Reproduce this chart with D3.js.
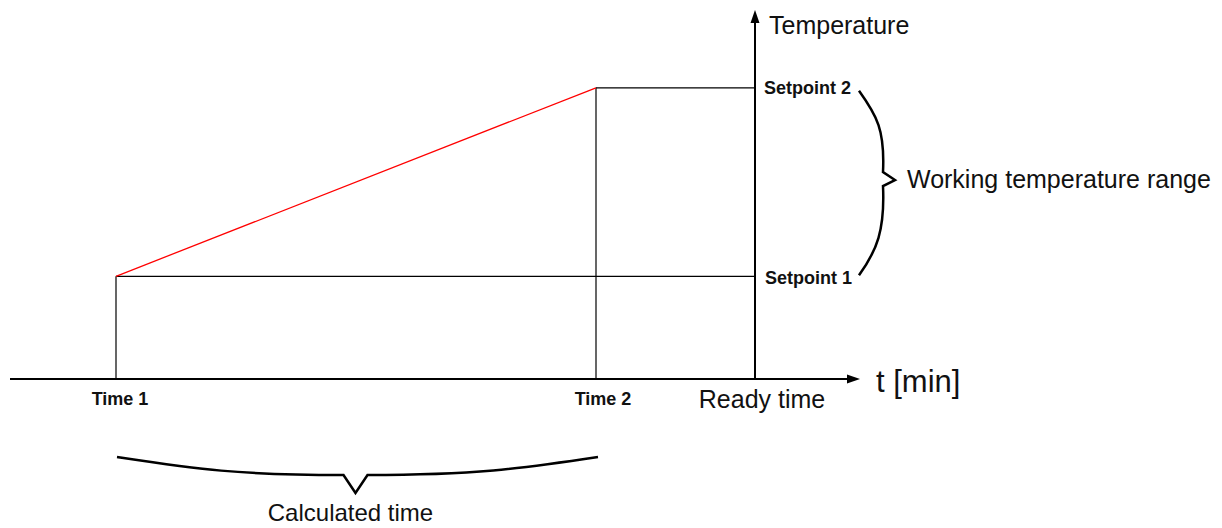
<!DOCTYPE html>
<html>
<head>
<meta charset="utf-8">
<script src="https://cdn.jsdelivr.net/npm/d3@7"></script>
<style>
  html, body { margin: 0; padding: 0; background: #fff; }
  svg { display: block; font-family: "Liberation Sans", Arial, sans-serif; }
</style>
</head>
<body>
<svg id="chart" width="1222" height="528"></svg>
<script>
// Time points on the horizontal axis (minutes, schematic)
const timeLabels = ["Time 1", "Time 2", "Ready time"];
const timeValues = [10.6, 58.6, 74.5];
// Temperature setpoints on the vertical axis
const setpointLabels = ["Setpoint 1", "Setpoint 2"];
const setpointValues = [10.3, 29.2];
// Heating ramp: from Setpoint 1 at Time 1 to Setpoint 2 at Time 2
const rampTimes = [10.6, 58.6];
const rampTemps = [10.3, 29.2];

const svg = d3.select("#chart");
const x = d3.scaleLinear().domain([0, 85]).range([10, 860]);
const y = d3.scaleLinear().domain([0, 37]).range([379, 10]);

const [t1, t2, tReady] = timeValues;
const [sp1, sp2] = setpointValues;

// Guide lines
const thin = svg.append("g").attr("stroke", "#000").attr("stroke-width", 1.2).attr("fill", "none");
thin.append("line").attr("x1", x(t1)).attr("x2", x(t1)).attr("y1", y(0)).attr("y2", y(sp1));
thin.append("line").attr("x1", x(t2)).attr("x2", x(t2)).attr("y1", y(0)).attr("y2", y(sp2));
thin.append("line").attr("x1", x(t1)).attr("x2", x(tReady)).attr("y1", y(sp1)).attr("y2", y(sp1));
thin.append("line").attr("x1", x(t2)).attr("x2", x(tReady)).attr("y1", y(sp2)).attr("y2", y(sp2));

// Ramp line
const ramp = d3.line().x((d, i) => x(rampTimes[i])).y(d => y(d));
svg.append("path").datum(rampTemps)
  .attr("d", ramp).attr("fill", "none").attr("stroke", "#ff0000").attr("stroke-width", 1.3);

// Axes with arrowheads
const axisG = svg.append("g").attr("stroke", "#000").attr("stroke-width", 2);
axisG.append("line").attr("x1", x(0)).attr("x2", x(85) - 8).attr("y1", y(0)).attr("y2", y(0));
axisG.append("line").attr("x1", x(tReady)).attr("x2", x(tReady)).attr("y1", y(0)).attr("y2", y(37) + 8);
svg.append("path")
  .attr("d", `M${x(85)},${y(0)} L${x(85) - 13},${y(0) - 4.5} L${x(85) - 13},${y(0) + 4.5} Z`)
  .attr("fill", "#000");
svg.append("path")
  .attr("d", `M${x(tReady)},${y(37)} L${x(tReady) - 4.5},${y(37) + 13} L${x(tReady) + 4.5},${y(37) + 13} Z`)
  .attr("fill", "#000");

// Axis titles
svg.append("text").attr("x", x(85) + 16).attr("y", 392)
  .attr("font-size", 31).attr("fill", "#111").text("t [min]");
svg.append("text").attr("x", x(tReady) + 14).attr("y", 34)
  .attr("font-size", 25).attr("fill", "#111").text("Temperature");

// Time labels
const timeOffsets = [4, 7, 7];
svg.append("g").selectAll("text").data(timeLabels).join("text")
  .attr("x", (d, i) => x(timeValues[i]) + timeOffsets[i])
  .attr("y", (d, i) => i === 2 ? 408 : 405)
  .attr("text-anchor", "middle")
  .attr("font-size", (d, i) => i === 2 ? 25 : 18)
  .attr("font-weight", (d, i) => i === 2 ? "normal" : "bold")
  .attr("fill", "#111")
  .text(d => d);

// Setpoint labels
svg.append("g").selectAll("text").data(setpointLabels).join("text")
  .attr("x", (d, i) => x(tReady) + (i === 0 ? 10 : 9))
  .attr("y", (d, i) => y(setpointValues[i]) + (i === 0 ? 8 : 6))
  .attr("font-size", 18).attr("font-weight", "bold").attr("fill", "#111")
  .text(d => d);

// Right curly brace spanning the working temperature range
const bx = 859, bTop = y(sp2) + 3, bBot = y(sp1) - 1, bMid = (bTop + bBot) / 2 - 3;
svg.append("path")
  .attr("d", `M${bx},${bTop} C${bx + 18},${bTop + 25} ${bx + 26},${bMid - 50} ${bx + 24},${bMid - 8}
              L${bx + 36},${bMid} L${bx + 24},${bMid + 6}
              C${bx + 26},${bMid + 50} ${bx + 18},${bBot - 25} ${bx},${bBot}`)
  .attr("fill", "none").attr("stroke", "#000").attr("stroke-width", 2.5).attr("stroke-linejoin", "miter");
svg.append("text").attr("x", bx + 48).attr("y", 188)
  .attr("font-size", 25).attr("fill", "#111").text("Working temperature range");

// Bottom curly brace spanning the calculated time
const cL = x(t1) + 1, cR = x(t2) + 2, cTop = 457, cMid = 475, cTip = (cL + cR) / 2 - 2;
svg.append("path")
  .attr("d", `M${cL},${cTop} C${cL + 80},${cMid - 6} ${cTip - 120},${cMid} ${cTip - 12},${cMid}
              L${cTip},${cMid + 18} L${cTip + 12},${cMid}
              C${cTip + 120},${cMid} ${cR - 80},${cMid - 6} ${cR},${cTop}`)
  .attr("fill", "none").attr("stroke", "#000").attr("stroke-width", 2.5);
svg.append("text").attr("x", cTip - 5).attr("y", 521)
  .attr("text-anchor", "middle").attr("font-size", 24).attr("fill", "#111").text("Calculated time");
</script>
</body>
</html>
